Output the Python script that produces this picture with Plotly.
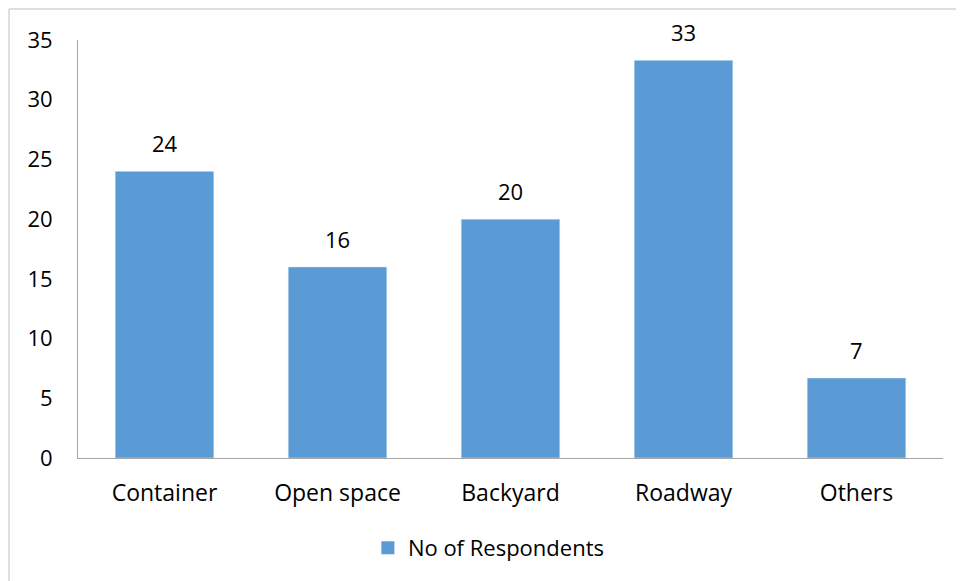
import plotly.graph_objects as go

categories = ["Container", "Open space", "Backyard", "Roadway", "Others"]
respondents = [24, 16, 20, 33.3, 6.7]
series_name = "No of Respondents"

OFF = 8  # page body offset
W, H = 964 - OFF, 581 - OFF
L, R, T, B = 78 - OFF, 21, 40 - OFF, 123
pw, ph = W - L - R, H - T - B
BAR_COLOR = "#5b9bd5"
FONT = "Open Sans, Lato, sans-serif"
FS = 22

fig = go.Figure()
fig.add_trace(go.Bar(
    x=categories, y=respondents, name=series_name,
    marker=dict(color=BAR_COLOR),
    showlegend=False,
))
# legend entry with a larger square key
fig.add_trace(go.Scatter(
    x=[None], y=[None], mode="markers", name=series_name,
    marker=dict(symbol="square", size=13, color=BAR_COLOR),
    showlegend=True,
))

for c, v in zip(categories, respondents):
    fig.add_annotation(x=c, y=v, text=f"{v:.0f}", showarrow=False,
                       yanchor="bottom", yshift=11,
                       font=dict(size=FS, color="#000000", family=FONT))

fig.update_layout(
    width=W, height=H,
    margin=dict(l=L, r=R, t=T, b=B),
    paper_bgcolor="white", plot_bgcolor="white",
    font=dict(family=FONT, size=FS, color="#000000"),
    bargap=0.43,
    showlegend=True,
    legend=dict(orientation="h", x=0.475, xanchor="center", y=-0.215, yanchor="middle",
                font=dict(size=FS), itemwidth=30, tracegroupgap=0),
    xaxis=dict(showline=True, linecolor="#a6a6a6", linewidth=1, ticks="",
               showgrid=False, ticklabelstandoff=14, tickfont=dict(size=23)),
    yaxis=dict(range=[0, 35], dtick=5, showline=True, linecolor="#a6a6a6", linewidth=1,
               ticks="", showgrid=False, zeroline=False, ticklabelstandoff=20),
)

# outer chart frame (partially cut by canvas)
fig.add_shape(type="rect", xref="paper", yref="paper",
              x0=(9 - OFF - L) / pw, x1=(W + 20 - L) / pw,
              y0=-(H + 20 - T - ph) / ph, y1=(H - B - (9 - OFF)) / ph,
              line=dict(color="#bfbfbf", width=1), fillcolor="rgba(0,0,0,0)", layer="below")

fig.write_html("out.html")
